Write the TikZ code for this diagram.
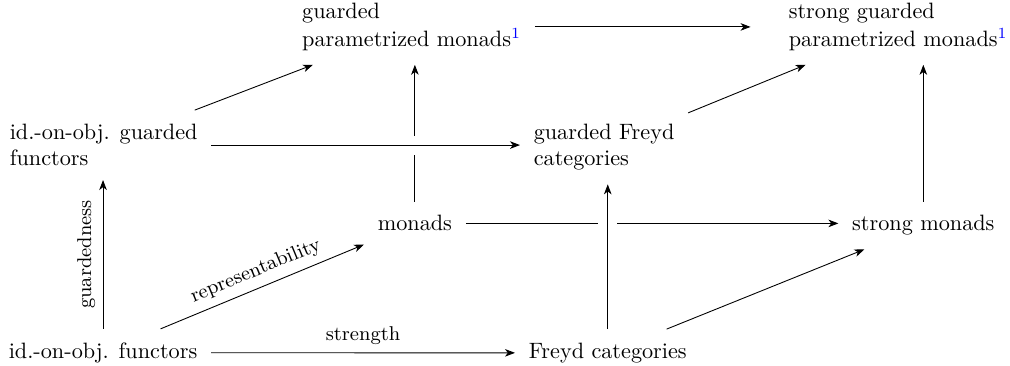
\documentclass[tikz,border=0pt]{standalone}
\usepackage{xcolor}
\usepackage{amsmath}
\usepackage{tikz}
\usetikzlibrary{arrows.meta}

\begin{document}
\begin{tikzpicture}[x=0.45pt, y=-0.45pt,
		obj/.style={anchor=base west, inner sep=6pt, align=left},
		arr/.style={-{Stealth[length=4.5pt, width=3.4pt, inset=1.3pt]}},
		lbl/.style={font=\small},
		over/.style={preaction={draw=white, -, line width=8.5pt}}]
		\useasboundingbox (0,0) rectangle (1010,366);

		\node[obj] (IDF) at (-5, 358.3) {id.-on-obj. functors};
		\node[obj] (FREYD) at (515, 358.3) {Freyd categories};
		\node[obj] (MON) at (364, 231) {monads};
		\node[obj] (SMON) at (838.4, 231) {strong monads};
		\node[obj] (GIDF) at (-4, 166) {id.-on-obj. guarded\\functors};
		\node[obj] (GFREYD) at (520, 166) {guarded Freyd\\categories};
		\node[obj] (GPM) at (288.4, 46.7) {guarded\\[0.8pt]parametrized monads\textsuperscript{\color{blue}1}};
		\node[obj] (SGPM) at (775, 46.7) {strong guarded\\[0.8pt]parametrized monads\textsuperscript{\color{blue}1}};

		% back square first, so the front arrows can cross over it
		\draw[arr] (MON) -- (MON |- GPM.south);
		\draw[arr] (MON) -- (MON -| SMON.west);
		\draw[arr] (SMON) -- (SMON |- SGPM.south);
		\draw[arr, shorten >=11pt] (GPM) -- (GPM -| SGPM.west);

		\draw[arr] (IDF) --node[above, lbl] {strength} (FREYD);
		\draw[arr] (IDF) -- (IDF |- GIDF.south) node[midway, above, sloped, lbl] {guardedness};
		\draw[arr, over] (GIDF) -- (GIDF -| GFREYD.west);
		\draw[arr, over] (FREYD) -- (FREYD |- GFREYD.south);

		\draw[arr] (IDF) --node[above, sloped, lbl] {representability} (MON);
		\draw[arr] (FREYD) -- (SMON);
		\draw[arr] (GIDF) -- (GPM);
		\draw[arr] (GFREYD) -- (SGPM);

	\end{tikzpicture}
\end{document}
